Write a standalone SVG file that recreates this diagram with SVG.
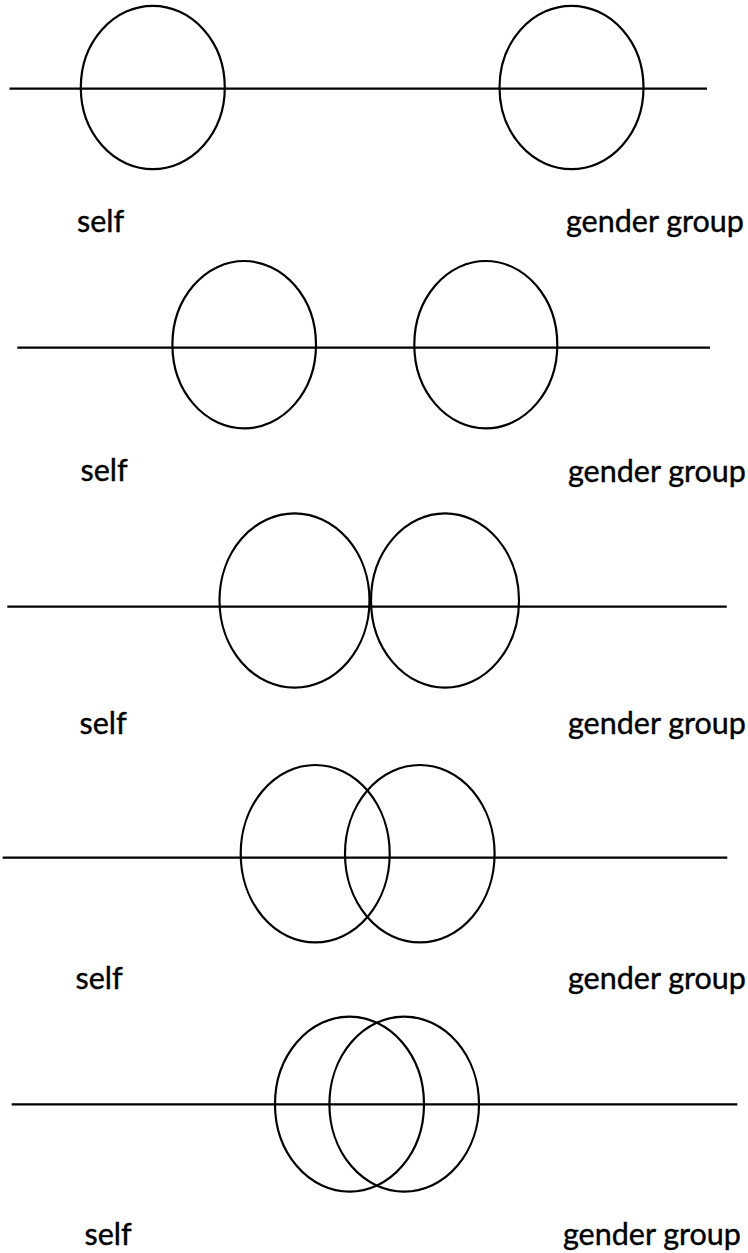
<svg xmlns="http://www.w3.org/2000/svg" width="748" height="1253" viewBox="0 0 748 1253">
<style>
.c{fill:none;stroke:#000;stroke-width:2.2}
.l{stroke:#000;stroke-width:2.2}
.t{font-family:Lato,"Open Sans",sans-serif;font-size:30.5px;fill:#000;stroke:#000;stroke-width:0.4}
</style>
<rect width="748" height="1253" fill="#fff"/>
<g id="connectors">
<line class="l" x1="9.5" y1="88.7" x2="707" y2="88.7"/>
<line class="l" x1="17.3" y1="347.7" x2="710" y2="347.7"/>
<line class="l" x1="7.3" y1="606.7" x2="726.7" y2="606.7"/>
<line class="l" x1="2.7" y1="857.7" x2="727.3" y2="857.7"/>
<line class="l" x1="11.7" y1="1104.3" x2="737.3" y2="1104.3"/>
</g>
<g id="self1"><ellipse class="c" cx="152.8" cy="87.5" rx="72" ry="81.7"/></g>
<g id="group1"><ellipse class="c" cx="571.5" cy="87.5" rx="72" ry="81.7"/></g>
<g id="self2"><ellipse class="c" cx="244.2" cy="344.7" rx="71.8" ry="83.7"/></g>
<g id="group2"><ellipse class="c" cx="485.8" cy="344.7" rx="71.5" ry="83.7"/></g>
<g id="self3"><ellipse class="c" cx="294.5" cy="600.5" rx="75" ry="87.2"/></g>
<g id="group3"><ellipse class="c" cx="445" cy="600.5" rx="74" ry="87.2"/></g>
<g id="self4"><ellipse class="c" cx="315.2" cy="853.7" rx="74.5" ry="88.7"/></g>
<g id="group4"><ellipse class="c" cx="419.8" cy="853.7" rx="74.8" ry="88.7"/></g>
<g id="self5"><ellipse class="c" cx="349.5" cy="1104.2" rx="74.5" ry="87.5"/></g>
<g id="group5"><ellipse class="c" cx="404.2" cy="1104.2" rx="74.8" ry="87.5"/></g>
<g id="labels">
<text class="t" x="77" y="232">self</text>
<text class="t" x="566" y="232">gender group</text>
<text class="t" x="80.5" y="481">self</text>
<text class="t" x="568" y="482">gender group</text>
<text class="t" x="79.5" y="734">self</text>
<text class="t" x="568" y="734">gender group</text>
<text class="t" x="75.5" y="989">self</text>
<text class="t" x="568" y="989">gender group</text>
<text class="t" x="84.5" y="1245">self</text>
<text class="t" x="563" y="1245">gender group</text>
</g>
</svg>
